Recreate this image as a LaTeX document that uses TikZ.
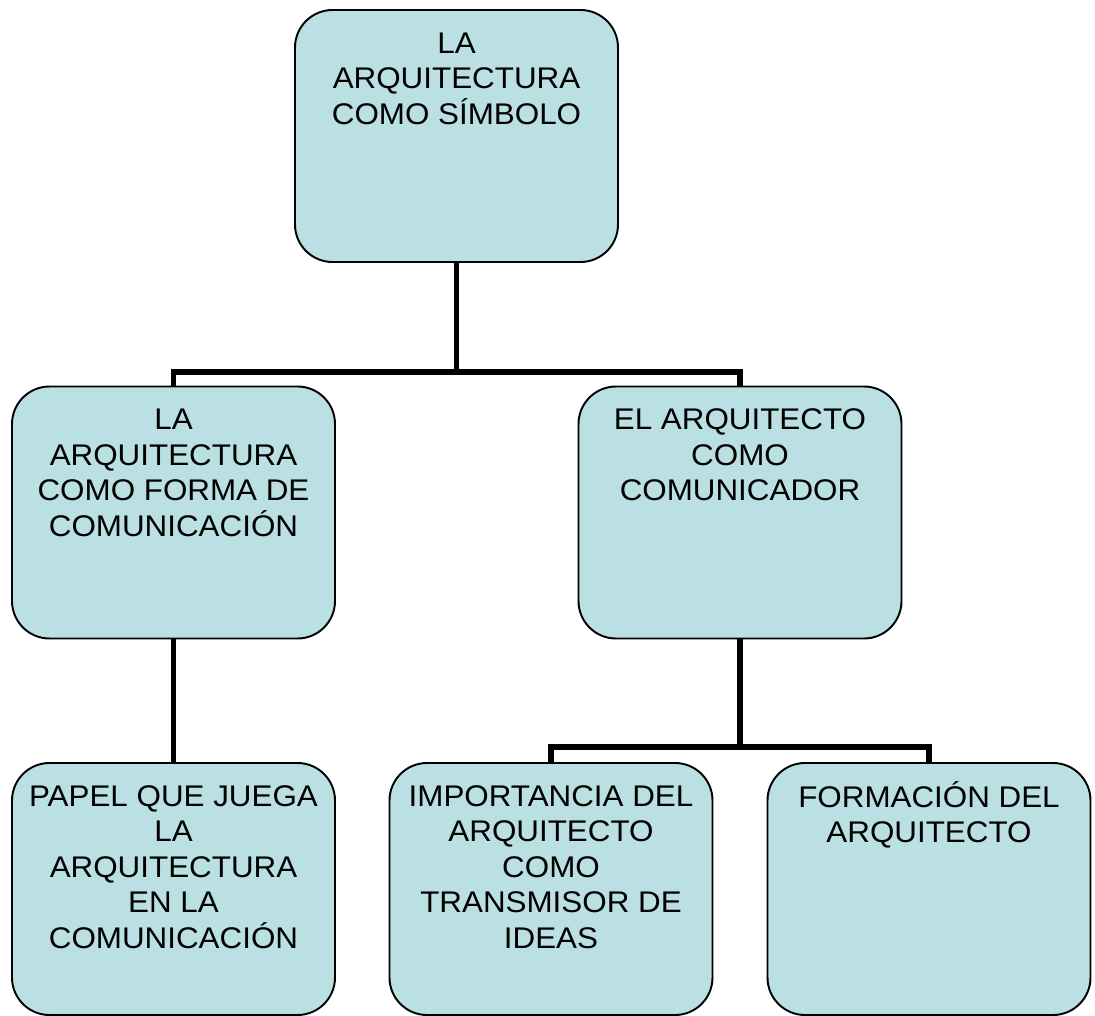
\documentclass[tikz,border=0pt]{standalone}
\usepackage{fontspec}
\setmainfont{Liberation Sans}[FakeStretch=1.05]
\usetikzlibrary{positioning}
\definecolor{boxfill}{HTML}{BBE0E3}
\newcommand{\boxtxt}[1]{\parbox[t][4.3cm][t]{6.3cm}{\centering\strut #1}}

\begin{document}
\begin{tikzpicture}[box/.style={draw, rectangle, rounded corners=0.75cm, line width=1.1pt, fill=boxfill, minimum width=64.6mm, minimum height=50.4mm, inner sep=0pt, font=\fontsize{17pt}{20.2pt}\selectfont}, conn/.style={line width=3.2pt}]
	\useasboundingbox (0, 0) rectangle (21.9, -20.32);

	\node[box] (top) at (9.13, -2.72) {\boxtxt{LA\\ ARQUITECTURA\\ COMO SÍMBOLO}};
	\node[box] (forma) at (3.47, -10.25) {\boxtxt{LA\\ ARQUITECTURA\\ COMO FORMA DE\\ COMUNICACIÓN}};
	\node[box] (comunicador) at (14.8, -10.25) {\boxtxt{EL ARQUITECTO\\ COMO\\ COMUNICADOR}};
	\node[box] (papel) at (3.47, -17.78) {\boxtxt{PAPEL QUE JUEGA\\ LA\\ ARQUITECTURA\\ EN LA\\ COMUNICACIÓN}};
	\node[box] (importancia) at (11.02, -17.78) {\boxtxt{IMPORTANCIA DEL\\ ARQUITECTO\\ COMO\\ TRANSMISOR DE\\ IDEAS}};
	\node[box] (formacion) at (18.58, -17.78) {\boxtxt{FORMACIÓN DEL\\ ARQUITECTO}};

	\coordinate (topbus) at (9.13, -7.44);
	\coordinate (rightbus) at (14.8, -14.94);

	\draw[conn] (top.south) -- (topbus);
	\draw[conn] (forma.north) |- (topbus) -| (comunicador.north);
	\draw[conn] (forma.south) -- (papel.north);
	\draw[conn] (comunicador.south) -- (rightbus);
	\draw[conn] (importancia.north) |- (rightbus) -| (formacion.north);
\end{tikzpicture}
\end{document}
